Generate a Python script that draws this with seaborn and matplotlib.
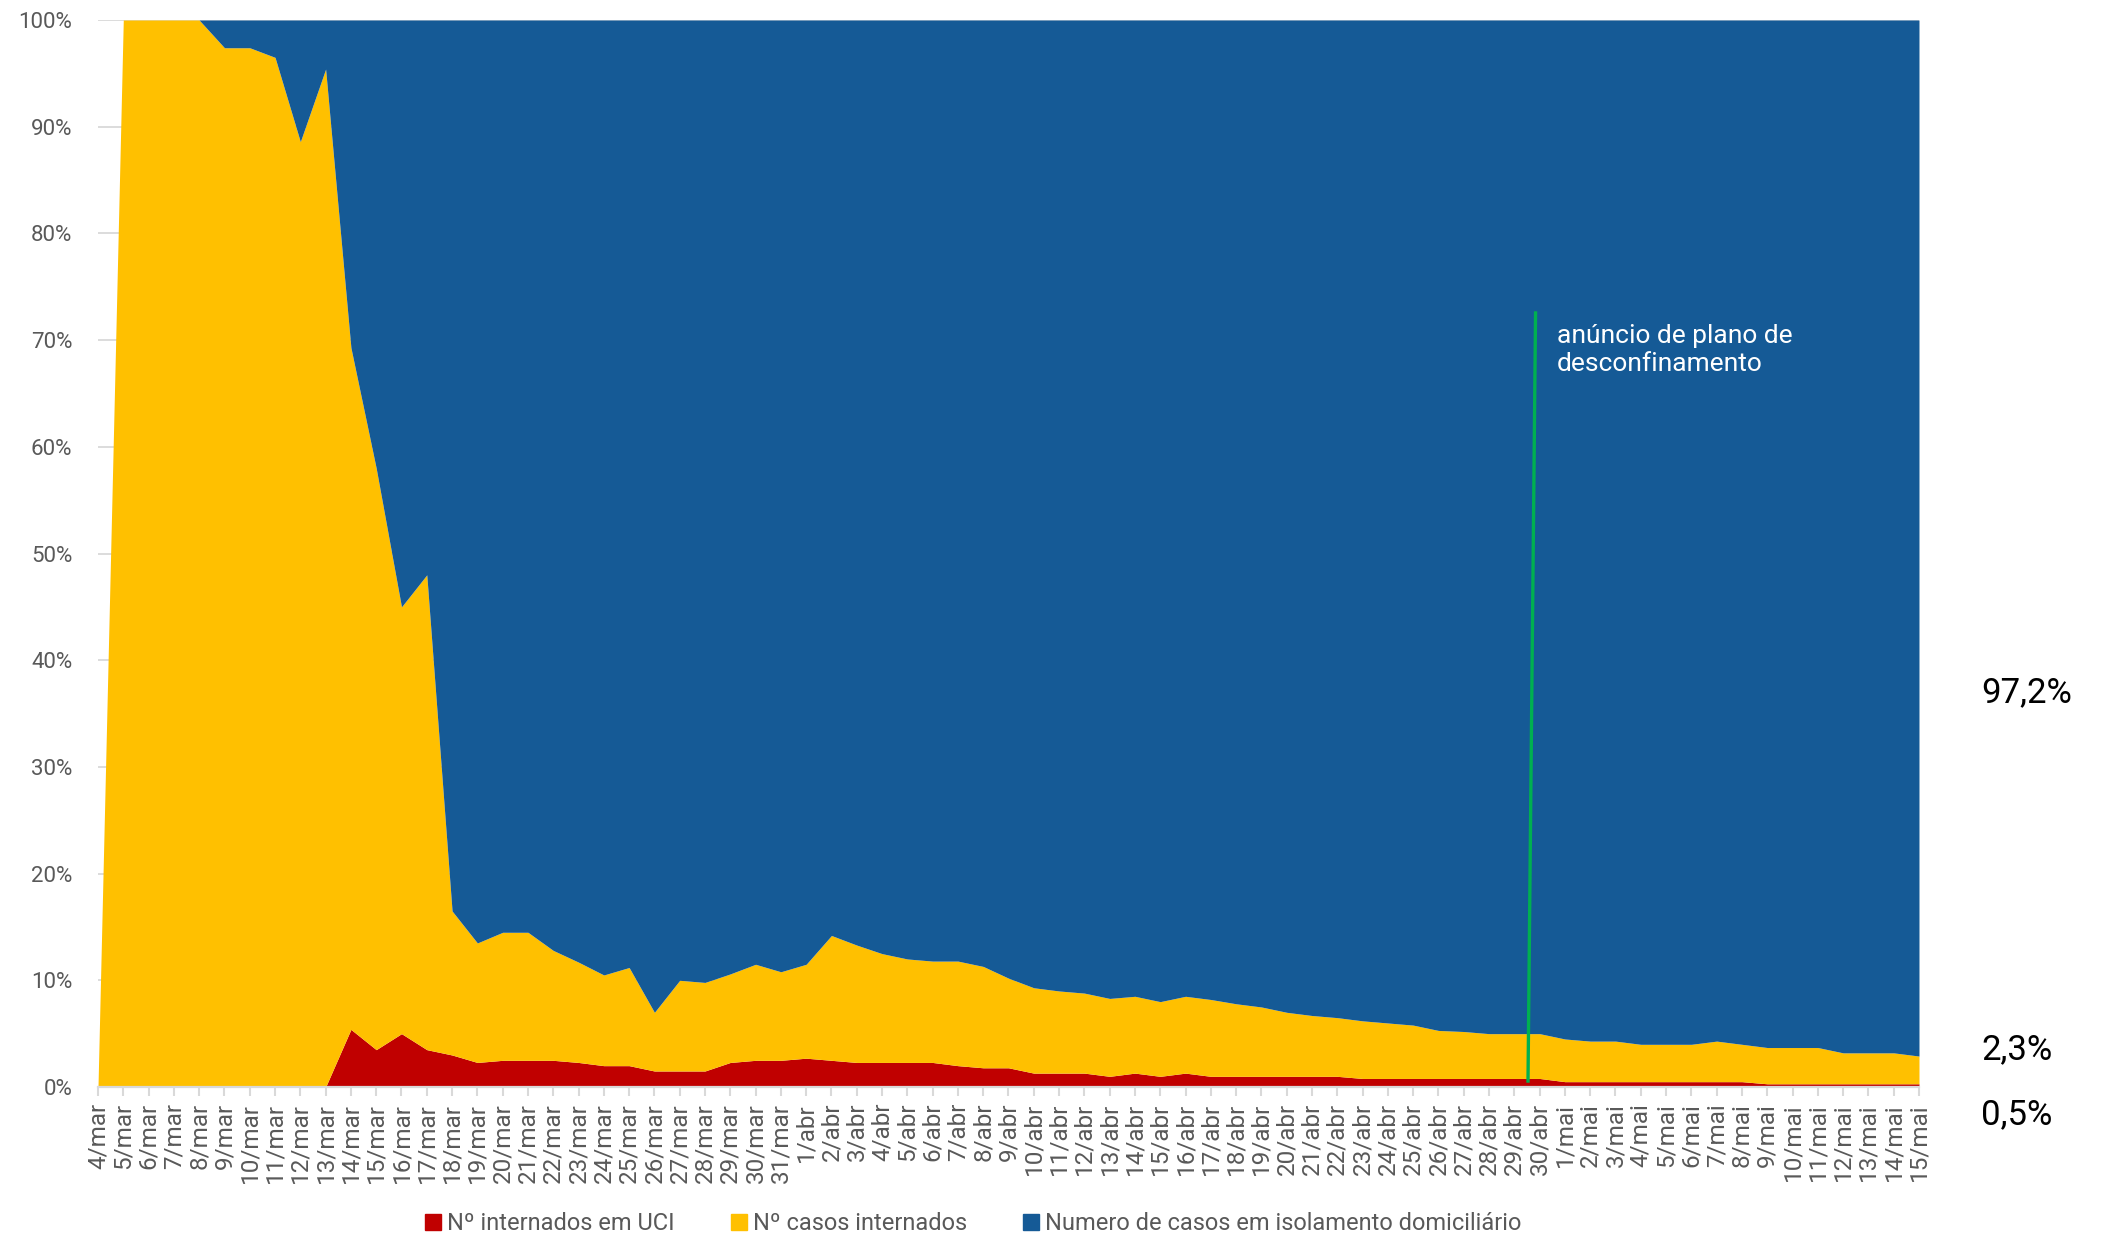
import matplotlib
matplotlib.use("Agg")
import matplotlib.pyplot as plt
import seaborn as sns
import numpy as np
from matplotlib.lines import Line2D
from matplotlib.transforms import Bbox, TransformedBbox

# ---------------- data ----------------
dates = [
    "4/mar", "5/mar", "6/mar", "7/mar", "8/mar", "9/mar", "10/mar", "11/mar", "12/mar", "13/mar",
    "14/mar", "15/mar", "16/mar", "17/mar", "18/mar", "19/mar", "20/mar", "21/mar", "22/mar",
    "23/mar", "24/mar", "25/mar", "26/mar", "27/mar", "28/mar", "29/mar", "30/mar", "31/mar",
    "1/abr", "2/abr", "3/abr", "4/abr", "5/abr", "6/abr", "7/abr", "8/abr", "9/abr", "10/abr",
    "11/abr", "12/abr", "13/abr", "14/abr", "15/abr", "16/abr", "17/abr", "18/abr", "19/abr",
    "20/abr", "21/abr", "22/abr", "23/abr", "24/abr", "25/abr", "26/abr", "27/abr", "28/abr",
    "29/abr", "30/abr",
    "1/mai", "2/mai", "3/mai", "4/mai", "5/mai", "6/mai", "7/mai", "8/mai", "9/mai", "10/mai",
    "11/mai", "12/mai", "13/mai", "14/mai", "15/mai",
]

# shares (%) of each group per day
uci = [
    0, 0, 0, 0, 0, 0, 0, 0, 0, 0,
    5.4, 3.5, 5.0, 3.5, 3.0, 2.3, 2.5, 2.5, 2.5,
    2.3, 2.0, 2.0, 1.5, 1.5, 1.5, 2.3, 2.5, 2.5,
    2.7, 2.5, 2.3, 2.3, 2.3, 2.3, 2.0, 1.8, 1.8, 1.3,
    1.3, 1.3, 1.0, 1.3, 1.0, 1.3, 1.0, 1.0, 1.0,
    1.0, 1.0, 1.0, 0.8, 0.8, 0.8, 0.8, 0.8, 0.8,
    0.8, 0.8,
    0.5, 0.5, 0.5, 0.5, 0.5, 0.5, 0.5, 0.5, 0.3, 0.3,
    0.3, 0.3, 0.3, 0.3, 0.3,
]
internados = [
    0, 100, 100, 100, 100, 97.4, 97.4, 96.5, 88.6, 95.4,
    63.9, 54.5, 40.0, 44.5, 13.5, 11.2, 12.0, 12.0, 10.3,
    9.4, 8.5, 9.2, 5.5, 8.5, 8.3, 8.3, 9.0, 8.3,
    8.8, 11.7, 11.0, 10.2, 9.7, 9.5, 9.8, 9.5, 8.4, 8.0,
    7.7, 7.5, 7.3, 7.2, 7.0, 7.2, 7.2, 6.8, 6.5,
    6.0, 5.7, 5.5, 5.4, 5.2, 5.0, 4.5, 4.4, 4.2,
    4.2, 4.2,
    4.0, 3.8, 3.8, 3.5, 3.5, 3.5, 3.8, 3.5, 3.4, 3.4,
    3.4, 2.9, 2.9, 2.9, 2.6,
]
isolamento = [
    0, 0, 0, 0, 0, 2.6, 2.6, 3.5, 11.4, 4.6,
    30.7, 42.0, 55.0, 52.0, 83.5, 86.5, 85.5, 85.5, 87.2,
    88.3, 89.5, 88.8, 93.0, 90.0, 90.2, 89.4, 88.5, 89.2,
    88.5, 85.8, 86.7, 87.5, 88.0, 88.2, 88.2, 88.7, 89.8, 90.7,
    91.0, 91.2, 91.7, 91.5, 92.0, 91.5, 91.8, 92.2, 92.5,
    93.0, 93.3, 93.5, 93.8, 94.0, 94.2, 94.7, 94.8, 95.0,
    95.0, 95.0,
    95.5, 95.7, 95.7, 96.0, 96.0, 96.0, 95.7, 96.0, 96.3, 96.3,
    96.3, 96.8, 96.8, 96.8, 97.1,
]

series_names = ["Nº internados em UCI", "Nº casos internados",
                "Numero de casos em isolamento domiciliário"]
series_colors = ["#C00000", "#FFC000", "#155A96"]

yticks = [0, 10, 20, 30, 40, 50, 60, 70, 80, 90, 100]
ytick_labels = ["0%", "10%", "20%", "30%", "40%", "50%", "60%", "70%", "80%", "90%", "100%"]

end_labels = ["97,2%", "2,3%", "0,5%"]
annotation_text = "anúncio de plano de\ndesconfinamento"
event_date = "29/abr"

# ---------------- style ----------------
sns.set_theme(style="white")
plt.rcParams["font.family"] = ["Roboto", "DejaVu Sans"]

GREY_TXT = "#595959"
GRID = "#D9D9D9"

fig = plt.figure(figsize=(21.06, 12.35), dpi=100)
ax = fig.add_axes([0.04653, 0.11984, 0.86467, 0.86396])

x = np.arange(len(dates))
ax.stackplot(x, uci, internados, isolamento, colors=series_colors,
             linewidth=0, antialiased=True, zorder=2)

ax.set_xlim(0, len(dates) - 1)
ax.set_ylim(0, 100)

# grid & spines
ax.set_axisbelow(True)
ax.yaxis.grid(True, color=GRID, linewidth=1.3)
ax.xaxis.grid(False)
for s in ["top", "right", "left"]:
    ax.spines[s].set_visible(False)
ax.spines["bottom"].set_color(GRID)
ax.spines["bottom"].set_linewidth(1.6)
ax.spines["bottom"].set_zorder(3)

ax.set_yticks(yticks)
ax.set_yticklabels(ytick_labels)
ax.tick_params(axis="y", length=0, pad=18.5, labelsize=16, labelcolor=GREY_TXT)

ax.set_xticks(x)
ax.set_xticklabels(dates, rotation=90)
ax.tick_params(axis="x", direction="out", length=6.5, width=1.5, color=GRID,
               pad=5, labelsize=17.5, labelcolor=GREY_TXT, bottom=True)

# clip the date labels like the original (their long ends are cut off)
clip = TransformedBbox(Bbox([[0, 0.0413], [1, 1]]), fig.transFigure)
for lbl in ax.get_xticklabels():
    lbl.set_clip_box(clip)
    lbl.set_clip_on(True)

# event line and annotation
ex = dates.index(event_date)
ax.plot([ex + 0.54, ex + 0.84], [0.4, 72.7], color="#00B050", linewidth=2.4,
        zorder=4, solid_capstyle="butt")
ax.text(ex + 1.69, 69.1, annotation_text, color="white", fontsize=19,
        ha="left", va="center", linespacing=1.2, zorder=5)

# end-of-series labels (right side)
for lab, yf in zip(end_labels, [0.4389, 0.1498, 0.0972]):
    fig.text(0.9407, yf, lab, fontsize=25, color="black", ha="left", va="center")

# legend
handles = [Line2D([], [], marker="s", linestyle="", markersize=11,
                  markerfacecolor=c, markeredgecolor=c) for c in series_colors]
fig.legend(handles, series_names, loc="lower center", bbox_to_anchor=(0.4623, 0.0),
           ncol=3, frameon=False, fontsize=17, labelcolor=GREY_TXT,
           handlelength=0.6, handletextpad=0.3, columnspacing=2.4, borderpad=0,
           borderaxespad=0)

fig.savefig("out.png", dpi=100)
